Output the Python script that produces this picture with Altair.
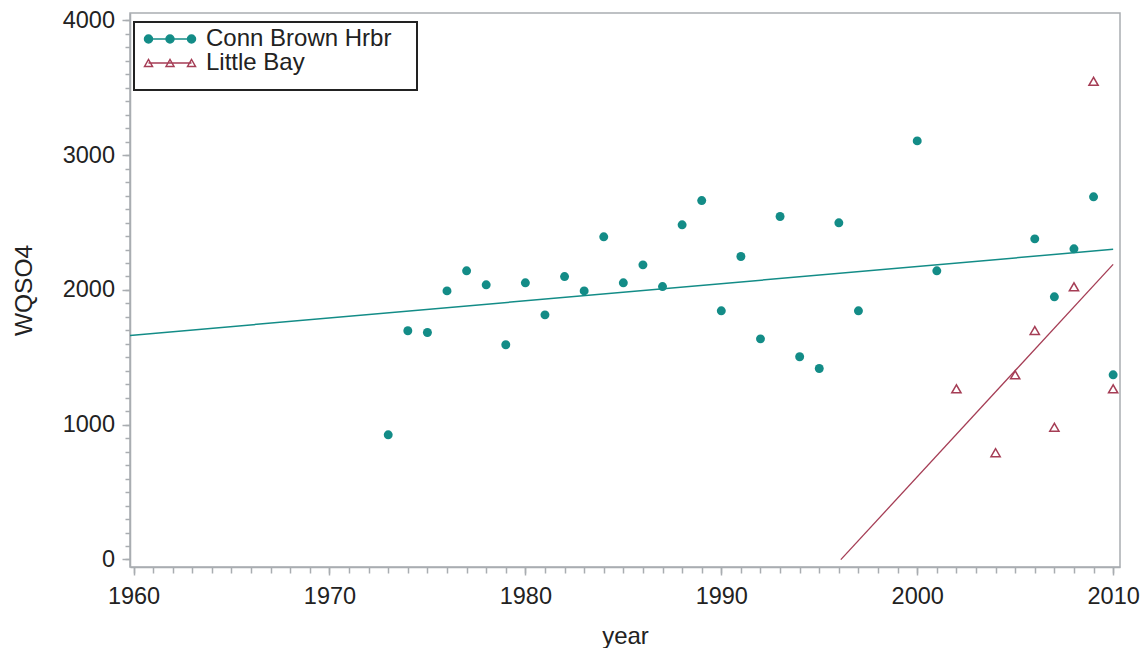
import altair as alt
import pandas as pd

# ---- data ----
conn_years = [1973, 1974, 1975, 1976, 1977, 1978, 1979, 1980, 1981, 1982, 1983, 1984,
              1985, 1986, 1987, 1988, 1989, 1990, 1991, 1992, 1993, 1994, 1995, 1996,
              1997, 2000, 2001, 2006, 2007, 2008, 2009, 2010]
conn_vals = [925, 1697, 1684, 1993, 2142, 2038, 1593, 2053, 1815, 2099, 1993, 2394,
             2053, 2186, 2025, 2483, 2663, 1845, 2248, 1637, 2545, 1504, 1417, 2498,
             1845, 3106, 2142, 2379, 1949, 2305, 2691, 1370]
lb_years = [2002, 2004, 2005, 2006, 2007, 2008, 2009, 2010]
lb_vals = [1266, 792, 1370, 1699, 981, 2023, 3548, 1266]

sites = ["Conn Brown Hrbr", "Little Bay"]
x_major = [1960, 1970, 1980, 1990, 2000, 2010]
x_minor = list(range(1960, 2011))
y_major = [0, 1000, 2000, 3000, 4000]
y_minor = list(range(0, 4001, 100))
conn_fit_extent = [1959.82, 2010]
lb_fit_extent = [1996.1, 2010]

TEAL = "#138C87"
RED = "#A53D55"
GRAY = "#A9ADB1"
TXT = "#222222"
FONT = "Liberation Sans"

rows = [{"year": y, "value": v, "site": sites[0]} for y, v in zip(conn_years, conn_vals)]
rows += [{"year": y, "value": v, "site": sites[1]} for y, v in zip(lb_years, lb_vals)]
df = pd.DataFrame(rows)

xscale = alt.Scale(domain=[1959.82, 2010.35], nice=False, zero=False)
yscale = alt.Scale(domain=[-56, 4055], nice=False, zero=False)

x_axis = alt.Axis(values=x_major, format="d", tickSize=8, tickWidth=1.5, tickColor=GRAY,
                  domainColor=GRAY, domainWidth=1.5, labelFont=FONT, labelFontSize=23.5,
                  labelColor=TXT, labelPadding=9, labelFlush=False, labelOverlap=False,
                  grid=False, title="year", titleFont=FONT, titleFontSize=24,
                  titleFontWeight="normal", titleColor=TXT, titleY=76,
                  titleBaseline="alphabetic", orient="bottom")
y_axis = alt.Axis(values=y_major, format="d", tickSize=8, tickWidth=1.5, tickColor=GRAY,
                  domainColor=GRAY, domainWidth=1.5, labelFont=FONT, labelFontSize=23.5,
                  labelColor=TXT, labelPadding=7.5, labelFlush=False, labelOverlap=False,
                  grid=False, title="WQSO4", titleFont=FONT, titleFontSize=24.5,
                  titleFontWeight="normal", titleColor=TXT, titleX=-99,
                  titleBaseline="alphabetic", orient="left")
x_minor_axis = alt.Axis(values=x_minor, tickSize=6, tickWidth=1.5, tickColor=GRAY,
                        domain=False, labels=False, grid=False, title=None, orient="bottom")
y_minor_axis = alt.Axis(values=y_minor, tickSize=5, tickWidth=1.5, tickColor=GRAY,
                        domain=False, labels=False, grid=False, title=None, orient="left")

X = alt.X("year:Q", scale=xscale, axis=x_axis)
Y = alt.Y("value:Q", scale=yscale, axis=y_axis)

base = alt.Chart(df)

conn_pts = base.transform_filter(alt.datum.site == sites[0]).mark_circle(
    color=TEAL, size=80, opacity=1).encode(x=X, y=Y)
lb_pts = base.transform_filter(alt.datum.site == sites[1]).mark_point(
    shape="triangle-up", filled=False, color=RED, size=85, strokeWidth=1.5, opacity=1
).encode(x=X, y=Y)

conn_fit = base.transform_filter(alt.datum.site == sites[0]).transform_regression(
    "year", "value", extent=conn_fit_extent).mark_line(
    color=TEAL, strokeWidth=1.5, clip=True).encode(x=X, y=Y)
lb_fit = base.transform_filter(alt.datum.site == sites[1]).transform_regression(
    "year", "value", extent=lb_fit_extent).mark_line(
    color=RED, strokeWidth=1.3, clip=True).encode(x=X, y=Y)

# legend symbols: line with three markers
teal_sym = ("M-2.15,0L2.15,0"
            "M-2.55,0A0.4,0.4,0,1,0,-1.75,0A0.4,0.4,0,1,0,-2.55,0Z"
            "M-0.4,0A0.4,0.4,0,1,0,0.4,0A0.4,0.4,0,1,0,-0.4,0Z"
            "M1.75,0A0.4,0.4,0,1,0,2.55,0A0.4,0.4,0,1,0,1.75,0Z")
red_sym = ("M-2.15,0L2.15,0"
           "M-2.55,0.35L-2.15,-0.35L-1.75,0.35Z"
           "M-0.4,0.35L0,-0.35L0.4,0.35Z"
           "M1.75,0.35L2.15,-0.35L2.55,0.35Z")

# trailing non-breaking spaces (kept by a zero-width space) widen the legend box
NB = "\u00a0\u00a0\u00a0\u200b"
leg = alt.Legend(title=" ", titleOrient="bottom", titleFontSize=1, titlePadding=9,
                 orient="none", legendX=4, legendY=9, padding=5,
                 strokeColor=TXT, fillColor="white", symbolSize=400, symbolOffset=19,
                 symbolStrokeWidth=1.5, labelOffset=24, labelFont=FONT, labelFontSize=24,
                 labelColor=TXT, labelLimit=400, rowPadding=0,
                 labelExpr="datum.label == 'Conn Brown Hrbr' ? datum.label + '" + NB + "' : datum.label")

legend_layer = base.transform_filter("false").mark_point(opacity=1, strokeWidth=1.5).encode(
    x=X, y=Y,
    fill=alt.Fill("site:N", scale=alt.Scale(domain=sites, range=[TEAL, "transparent"]), legend=leg),
    stroke=alt.Stroke("site:N", scale=alt.Scale(domain=sites, range=[TEAL, RED]), legend=leg),
    shape=alt.Shape("site:N", scale=alt.Scale(domain=sites, range=[teal_sym, red_sym]), legend=leg),
)

main = alt.layer(conn_fit, lb_fit, conn_pts, lb_pts, legend_layer)

minor = base.transform_filter("false").mark_point().encode(
    x=alt.X("year:Q", scale=xscale, axis=x_minor_axis),
    y=alt.Y("value:Q", scale=yscale, axis=y_minor_axis),
)

chart = alt.layer(minor, main).resolve_axis(x="independent", y="independent").properties(
    width=990, height=554,
    padding={"left": 122, "top": 5, "right": 20, "bottom": 81},
    autosize=alt.AutoSizeParams(type="none"),
    background="white",
).configure(font=FONT).configure_view(stroke=GRAY, strokeWidth=1.5).configure_legend(strokeWidth=2)

chart.save("out.html", embed_options={"renderer": "svg", "actions": False})
